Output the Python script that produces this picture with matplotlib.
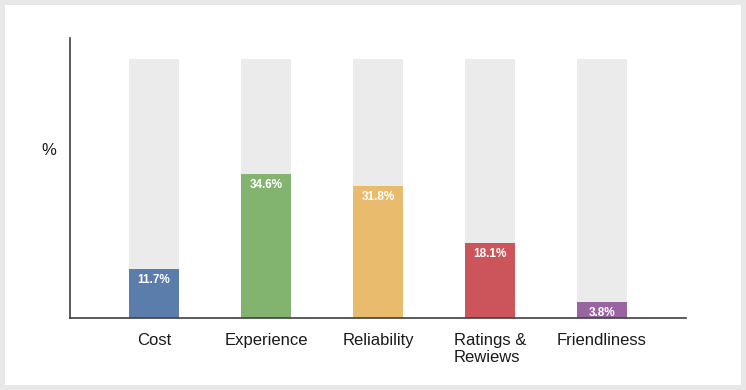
"""Factors when choosing a provider - share of answers"""
import matplotlib.pyplot as plt
from matplotlib.patches import Rectangle

plt.rcParams["font.family"] = ["Liberation Sans", "DejaVu Sans"]

categorias = ["Cost", "Experience", "Reliability", "Ratings &\nRewiews", "Friendliness"]
valores = [11.7, 34.6, 31.8, 18.1, 3.8]
fondo = [62.5, 62.5, 62.5, 62.5, 62.5]
colores = ["#5b7dab", "#82b46f", "#e9bb6c", "#cb555a", "#9865a0"]

fig = plt.figure(figsize=(7.46, 3.90), dpi=100)
fig.patch.set_facecolor("#e8e8e8")
# panel blanco dentro del marco gris
fig.add_artist(
    Rectangle((5 / 746, 5 / 390), 736 / 746, 380 / 390,
              transform=fig.transFigure, facecolor="white", edgecolor="none", zorder=-10)
)

ax = fig.add_axes([70 / 746, 72 / 390, 616 / 746, 280 / 390])
ax.set_facecolor("none")
x = range(len(categorias))
ax.bar(x, fondo, width=0.44, color="#ebebeb", zorder=1)
barras = ax.bar(x, valores, width=0.44, color=colores, zorder=2)

for barra, v in zip(barras, valores):
    ax.annotate(
        f"{v}%",
        (barra.get_x() + barra.get_width() / 2, v),
        xytext=(0, -3.5),
        textcoords="offset points",
        ha="center",
        va="top",
        color="white",
        fontsize=8.5,
        fontweight="bold",
        zorder=3,
    )

ax.set_xlim(-0.75, 4.75)
ax.set_ylim(0, 67.5)
ax.set_xticks(list(x))
ax.set_xticklabels(categorias, fontsize=12, color="#1a1a1a")
for etiqueta in ax.get_xticklabels():
    etiqueta.set_multialignment("left")
    etiqueta.set_linespacing(1.15)
ax.tick_params(axis="x", length=0, pad=11)
ax.set_yticks([])
ax.set_ylabel("%", rotation=0, fontsize=12, color="#1a1a1a", labelpad=14)
ax.yaxis.set_label_coords(-0.034, 0.57)

for lado in ["top", "right"]:
    ax.spines[lado].set_visible(False)
for lado in ["left", "bottom"]:
    ax.spines[lado].set_color("#404040")
    ax.spines[lado].set_linewidth(1.2)

plt.savefig("out.png", dpi=100, facecolor=fig.get_facecolor())
